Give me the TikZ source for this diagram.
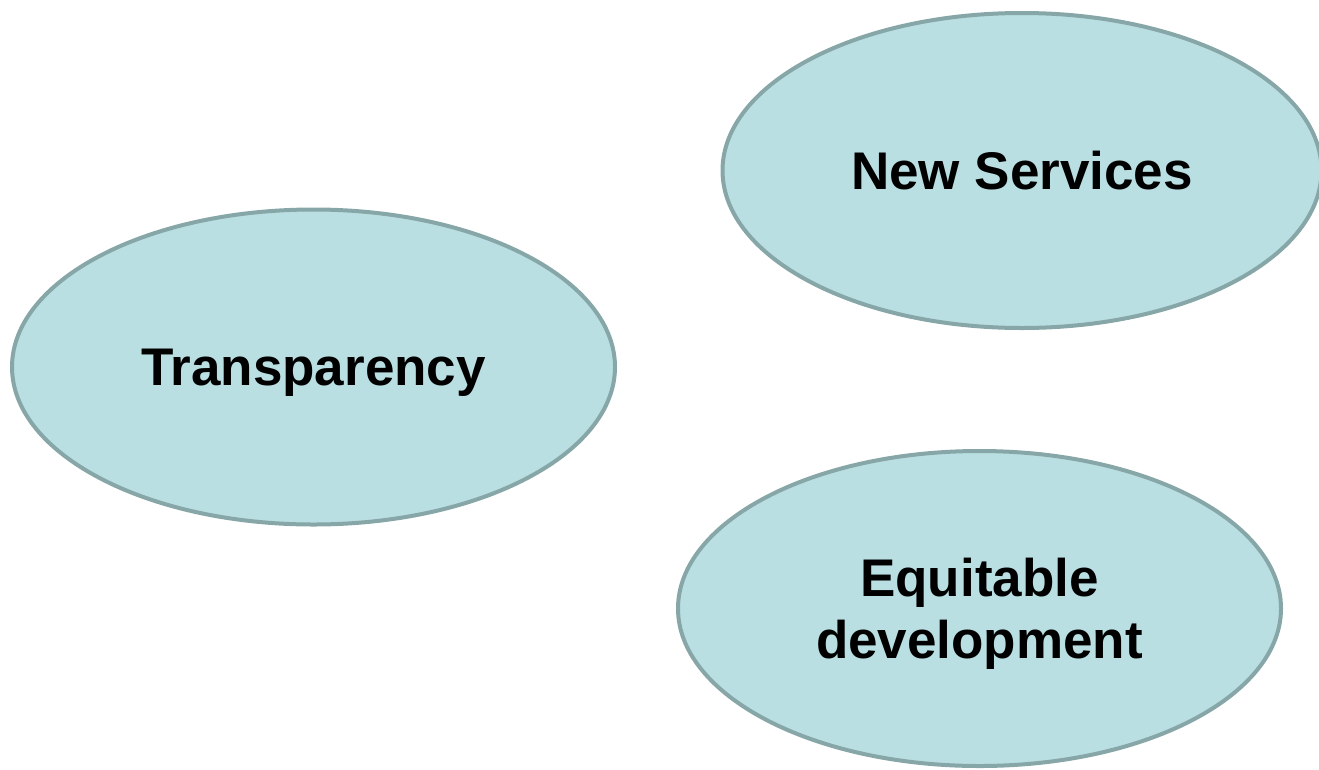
\documentclass[tikz,border=0pt]{standalone}
\usepackage{fontspec}
\setmainfont{Liberation Sans}
\usetikzlibrary{shapes.geometric}
\definecolor{fillc}{HTML}{B9DFE3}
\definecolor{linec}{HTML}{87A6A7}
\begin{document}
\begin{tikzpicture}[x=1pt,y=-1pt,
  blob/.style={ellipse, draw=linec, fill=fillc, line width=4pt, inner sep=0pt,
    minimum width=603pt, minimum height=315pt, align=center, text depth=0pt,
    font=\fontsize{53}{62}\selectfont\bfseries}]
\useasboundingbox (0,0) rectangle (1319,769);
\node[blob] (transp) at (313.5,367) {Transparency};
\node[blob, minimum width=599pt] (newserv) at (1022,170.5) {New Services};
\node[blob] (equit) at (979.5,608.5) {Equitable\\development};
\end{tikzpicture}
\end{document}
